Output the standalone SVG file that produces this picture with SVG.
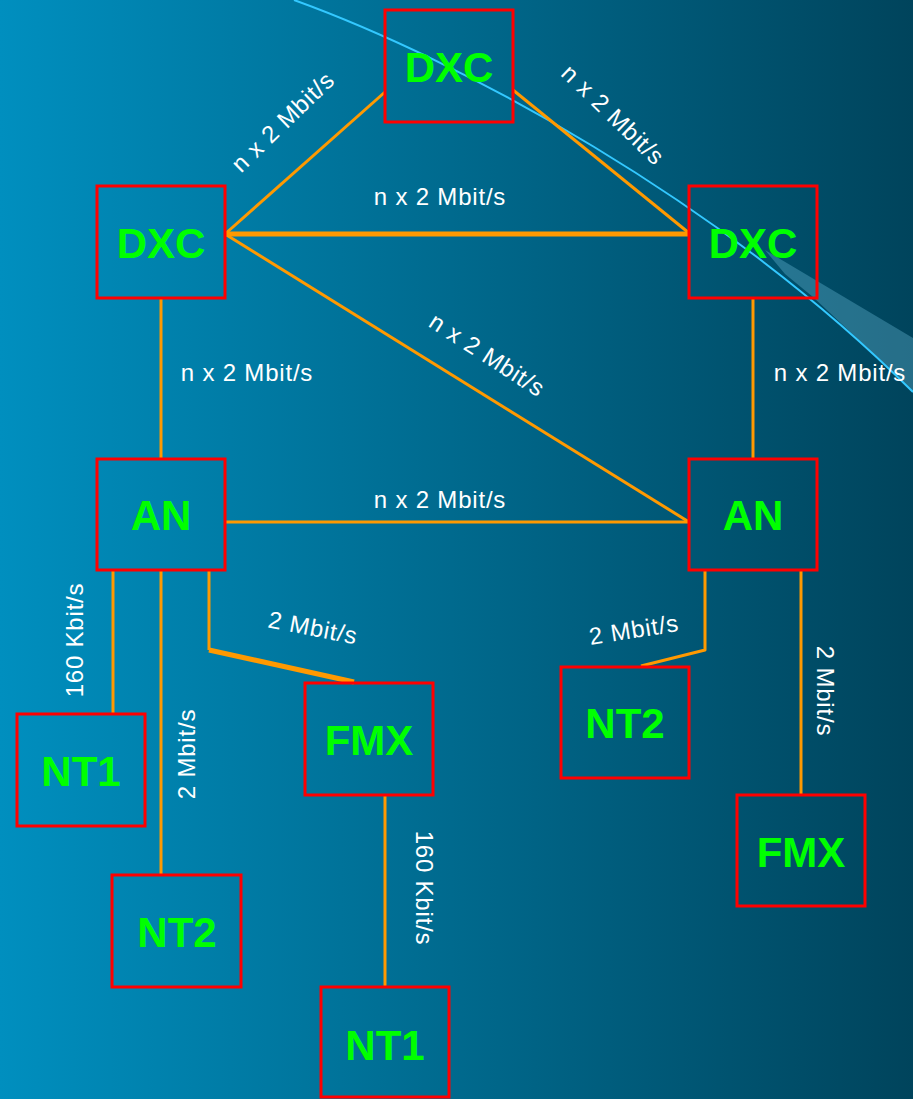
<svg xmlns="http://www.w3.org/2000/svg" width="913" height="1099" viewBox="0 0 913 1099">
  <defs>
    <linearGradient id="bg" x1="0" y1="0" x2="1" y2="0">
      <stop offset="0" stop-color="#008FBF"/>
      <stop offset="1" stop-color="#00445C"/>
    </linearGradient>
    <style>
      .box{fill:none;stroke:#FF0000;stroke-width:3}
      .nl{font-family:"Liberation Sans",Arial,sans-serif;font-weight:bold;font-size:42px;fill:#00FF00;text-anchor:middle}
      .c{fill:none;stroke:#FF9900;stroke-width:3;stroke-linejoin:round}
      .ct{stroke-width:5}
      .lb{font-family:"Liberation Sans",Arial,sans-serif;font-size:24px;fill:#FFFFFF;text-anchor:middle;letter-spacing:0.8px}
    </style>
  </defs>
  <rect x="0" y="0" width="913" height="1099" fill="url(#bg)"/>
  <path d="M765,250 L913,338 L913,392 L862,343 L813,297 L785,274 Z" fill="#7FD0F0" fill-opacity="0.3"/>
  <path d="M294,0 C460,60 720,200 913,392" fill="none" stroke="#33C8FF" stroke-width="2"/>

  <g id="connectors">
    <line class="c" x1="385" y1="92" x2="225" y2="234"/>
    <line class="c" x1="513" y1="90" x2="689" y2="233"/>
    <line class="c ct" x1="225" y1="234" x2="689" y2="234"/>
    <line class="c" x1="225" y1="234" x2="689" y2="522"/>
    <line class="c" x1="225" y1="522" x2="689" y2="522"/>
    <line class="c" x1="161" y1="298" x2="161" y2="459"/>
    <line class="c" x1="753" y1="298" x2="753" y2="459"/>
    <line class="c" x1="113" y1="570" x2="113" y2="714"/>
    <line class="c" x1="161" y1="570" x2="161" y2="875"/>
    <polyline class="c" points="209,570 209,650"/>
    <line class="c ct" x1="209" y1="650" x2="354" y2="682"/>
    <line class="c" x1="385" y1="795" x2="385" y2="987"/>
    <polyline class="c" points="705,570 705,650 641,666"/>
    <line class="c" x1="801" y1="570" x2="801" y2="795"/>

    <text class="lb" transform="translate(283,122) rotate(-44)" x="0" y="8">n x 2 Mbit/s</text>
    <text class="lb" transform="translate(613,115) rotate(44)" x="0" y="8">n x 2 Mbit/s</text>
    <text class="lb" x="440" y="205">n x 2 Mbit/s</text>
    <text class="lb" transform="translate(487,355) rotate(33)" x="0" y="8">n x 2 Mbit/s</text>
    <text class="lb" x="247" y="381">n x 2 Mbit/s</text>
    <text class="lb" x="840" y="381">n x 2 Mbit/s</text>
    <text class="lb" x="440" y="508">n x 2 Mbit/s</text>
    <text class="lb" transform="translate(75,640) rotate(-90)" x="0" y="8">160 Kbit/s</text>
    <text class="lb" transform="translate(187,754) rotate(-90)" x="0" y="8">2 Mbit/s</text>
    <text class="lb" transform="translate(313,628) rotate(11)" x="0" y="8">2 Mbit/s</text>
    <text class="lb" transform="translate(424,888) rotate(90)" x="0" y="8">160 Kbit/s</text>
    <text class="lb" transform="translate(634,630) rotate(-9)" x="0" y="8">2 Mbit/s</text>
    <text class="lb" transform="translate(825,691) rotate(90)" x="0" y="8">2 Mbit/s</text>
  </g>

  <g id="dxc-top"><rect class="box" x="385" y="10" width="128" height="112"/><text class="nl" x="449" y="82">DXC</text></g>
  <g id="dxc-left"><rect class="box" x="97" y="186" width="128" height="112"/><text class="nl" x="161" y="258">DXC</text></g>
  <g id="dxc-right"><rect class="box" x="689" y="186" width="128" height="112"/><text class="nl" x="753" y="258">DXC</text></g>
  <g id="an-left"><rect class="box" x="97" y="459" width="128" height="111"/><text class="nl" x="161" y="530">AN</text></g>
  <g id="an-right"><rect class="box" x="689" y="459" width="128" height="111"/><text class="nl" x="753" y="530">AN</text></g>
  <g id="nt1-left"><rect class="box" x="17" y="714" width="128" height="112"/><text class="nl" x="81" y="786">NT1</text></g>
  <g id="nt2-left"><rect class="box" x="112" y="875" width="129" height="112"/><text class="nl" x="177" y="947">NT2</text></g>
  <g id="fmx-mid"><rect class="box" x="305" y="683" width="128" height="112"/><text class="nl" x="369" y="755">FMX</text></g>
  <g id="nt1-bottom"><rect class="box" x="321" y="987" width="128" height="110"/><text class="nl" x="385" y="1060">NT1</text></g>
  <g id="nt2-right"><rect class="box" x="561" y="667" width="128" height="111"/><text class="nl" x="625" y="738">NT2</text></g>
  <g id="fmx-right"><rect class="box" x="737" y="795" width="128" height="111"/><text class="nl" x="801" y="867">FMX</text></g>
</svg>
